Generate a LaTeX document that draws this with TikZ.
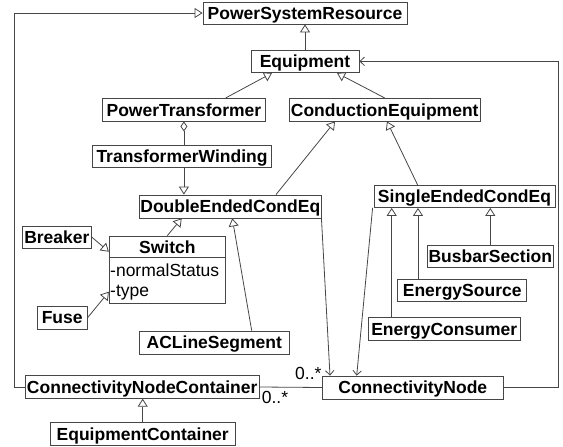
\documentclass[tikz,border=0pt]{standalone}
\usepackage{fontspec}
\setmainfont{Liberation Sans}
\usetikzlibrary{arrows.meta}
\definecolor{lc}{RGB}{70,70,70}
\begin{document}
\begin{tikzpicture}[x=1pt,y=-1pt,
  every node/.style={font=\fontsize{17.5}{20}\selectfont},
  cls/.style={draw=lc, line width=0.8pt, inner sep=0pt, text height=12.6pt, text depth=0pt, font=\fontsize{17.5}{20}\selectfont\bfseries},
  conn/.style={draw=lc, line width=0.8pt},
  gen/.style={conn, -{Triangle[open,length=8pt,width=10pt]}},
  nav/.style={conn, -{Straight Barb[length=4.5pt,width=8.5pt]}},
  agg/.style={conn, {Diamond[open,length=10pt,width=7pt]}-}
]
\useasboundingbox (0,0) rectangle (563,447);
% classes
\node[cls, minimum width=204, minimum height=22] (psr) at (305,13) {PowerSystemResource};
\node[cls, minimum width=108, minimum height=22.7] (eq) at (305,61.3) {Equipment};
\node[cls, minimum width=162.3, minimum height=22.7] (pt) at (183.9,109.7) {PowerTransformer};
\node[cls, minimum width=190.7, minimum height=22.7] (ce) at (384.7,109.7) {ConductionEquipment};
\node[cls, minimum width=179.4, minimum height=22.7] (tw) at (182,156.3) {TransformerWinding};
\node[cls, minimum width=182.7, minimum height=23] (dec) at (230.3,206.5) {DoubleEndedCondEq};
\node[cls, minimum width=181, minimum height=22] (sece) at (464.5,196.5) {SingleEndedCondEq};
\node[cls, minimum width=69.2, minimum height=22.5] (brk) at (56.9,237.2) {Breaker};
\node[draw=lc, line width=0.8pt, inner sep=0pt, minimum width=116, minimum height=67.3] (sw) at (167.3,269.7) {};
\draw[conn] ([yshift=-22pt]sw.north west) coordinate (swsep) -- ([yshift=-22pt]sw.north east);
\node[font=\fontsize{17.5}{20}\selectfont\bfseries, anchor=base, inner sep=0pt] (swname) at (167.3,253.3) {Switch};
\node[anchor=base west, inner sep=0pt] (swa1) at (110,276.7) {-normalStatus};
\node[anchor=base west, inner sep=0pt] (swa2) at (110,296.7) {-type};
\node[cls, minimum width=50.3, minimum height=23] (fuse) at (62.2,317.5) {Fuse};
\node[cls, minimum width=150, minimum height=23] (acl) at (214.3,342.5) {ACLineSegment};
\node[cls, minimum width=125.3, minimum height=22.7] (bs) at (490.3,256.3) {BusbarSection};
\node[cls, minimum width=129, minimum height=22.7] (es) at (462.2,290.3) {EnergySource};
\node[cls, minimum width=151.7, minimum height=22.7] (econ) at (444.2,328.7) {EnergyConsumer};
\node[cls, minimum width=234.3, minimum height=22.6] (cnc) at (142.2,387) {ConnectivityNodeContainer};
\node[cls, minimum width=181, minimum height=23] (cn) at (412.8,387.5) {ConnectivityNode};
\node[cls, minimum width=185.3, minimum height=22.7] (ec) at (142.7,433.7) {EquipmentContainer};
% generalizations
\draw[gen] (eq.north) -- (psr.south);
\draw[gen] ([xshift=41.8pt]pt.north) -- ([xshift=-33pt]eq.south);
\draw[gen] (ce.north) -- ([xshift=32pt]eq.south);
\draw[agg] (pt.south) -- (tw.north -| pt.south);
\draw[gen] (tw.south -| pt.south) -- (dec.north -| pt.south);
\draw[gen] ([xshift=45.7pt]dec.north) -- ([xshift=-49.7pt]ce.south);
\draw[gen] ([xshift=-46.8pt]sece.north) -- ([xshift=2.3pt]ce.south);
\draw[gen] (sw.north) -- ([xshift=-48.6pt]dec.south);
\draw[gen] (brk.east) -- ([yshift=18pt]sw.west);
\draw[gen] (fuse.east) -- ([yshift=-22pt]sw.west);
\draw[gen] ([xshift=37.4pt]acl.north) -- ([xshift=2pt]dec.south);
\draw[gen] ([xshift=-52.5pt]econ.north) -- ([xshift=-52.5pt]econ.north |- sece.south);
\draw[gen] ([xshift=-44.2pt]es.north) -- ([xshift=-44.2pt]es.north |- sece.south);
\draw[gen] (bs.north) -- (bs.north |- sece.south);
\draw[gen] (cnc.west) -- ++(-10,0) |- (psr.west);
\draw[gen] (ec.north) -- (cnc.south -| ec.north);
% associations
\draw[nav] (cn.east) -- ++(54.7,0) |- (eq.east);
\draw[nav] ([xshift=-0.6pt]dec.south east) -- ([xshift=-82.8pt]cn.north);
\draw[nav] ([xshift=-1pt]sece.south west) -- ([xshift=-56.1pt]cn.north);
\draw[conn] (cnc.east) -- (cn.west);
\node[anchor=base west, inner sep=0pt] (m1) at (295,379) {0..*};
\node[anchor=base west, inner sep=0pt] (m2) at (261.7,403) {0..*};
\end{tikzpicture}
\end{document}
